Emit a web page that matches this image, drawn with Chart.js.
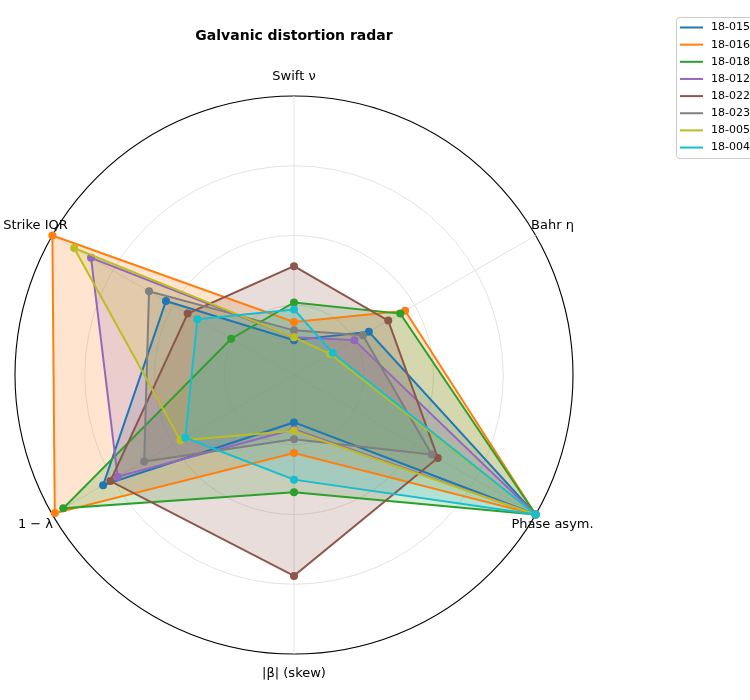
<!DOCTYPE html>
<html>
<head>
<meta charset="utf-8">
<script src="https://cdn.jsdelivr.net/npm/chart.js@4.4.1/dist/chart.umd.min.js"></script>
<style>
  html, body { margin: 0; padding: 0; background: #ffffff; overflow: hidden; }
  canvas { display: block; }
</style>
</head>
<body>
<canvas id="c" width="750" height="700"></canvas>
<script>
// ---- data ----
const axisLabels = ['Swift ν', 'Bahr η', 'Phase asym.', '|β| (skew)', '1 − λ', 'Strike IQR'];
const seriesNames = ['18-015', '18-016', '18-018', '18-012', '18-022', '18-023', '18-005', '18-004'];
const s18_015 = [0.125, 0.31, 1.0, 0.17, 0.79, 0.53];
const s18_016 = [0.19, 0.46, 1.0, 0.28, 0.99, 1.0];
const s18_018 = [0.26, 0.44, 1.0, 0.42, 0.955, 0.26];
const s18_012 = [0.135, 0.25, 1.0, 0.195, 0.73, 0.84];
const s18_022 = [0.39, 0.39, 0.595, 0.72, 0.76, 0.44];
const s18_023 = [0.16, 0.285, 0.57, 0.23, 0.62, 0.60];
const s18_005 = [0.135, 0.15, 1.0, 0.20, 0.47, 0.91];
const s18_004 = [0.235, 0.16, 1.0, 0.375, 0.45, 0.40];
const seriesValues = [s18_015, s18_016, s18_018, s18_012, s18_022, s18_023, s18_005, s18_004];
const radialTicks = [0, 0.25, 0.5, 0.75, 1.0];
const titleText = 'Galvanic distortion radar';

const colors = ['#1f77b4', '#ff7f0e', '#2ca02c', '#9467bd', '#8c564b', '#7f7f7f', '#bcbd22', '#17becf'];
function rgba(hex, a) {
  const r = parseInt(hex.slice(1, 3), 16), g = parseInt(hex.slice(3, 5), 16), b = parseInt(hex.slice(5, 7), 16);
  return `rgba(${r},${g},${b},${a})`;
}

const datasets = seriesNames.map((name, i) => ({
  label: name,
  data: seriesValues[i],
  borderColor: colors[i],
  backgroundColor: rgba(colors[i], 0.2),
  pointBackgroundColor: colors[i],
  pointBorderColor: colors[i],
  pointBorderWidth: 0,
  pointRadius: 4,
  borderWidth: 2,
  fill: true,
  order: seriesNames.length - i
}));

const FONT = "'DejaVu Sans', 'Liberation Sans', sans-serif";

const decor = {
  id: 'decor',
  afterDraw(chart) {
    const ctx = chart.ctx;
    const sc = chart.scales.r;
    ctx.save();
    // axis labels
    ctx.font = `13px ${FONT}`;
    ctx.fillStyle = '#000';
    ctx.textAlign = 'center';
    ctx.textBaseline = 'middle';
    axisLabels.forEach((lab, i) => {
      const p = sc.getPointPosition(i, sc.drawingArea * 1.07);
      ctx.fillText(lab, p.x, p.y);
    });
    // title
    ctx.font = `bold 14px ${FONT}`;
    ctx.fillText(titleText, sc.xCenter, 36);
    // legend
    const lx = 676.5, ly = 17.5, lh = 141;
    ctx.fillStyle = 'rgba(255,255,255,0.8)';
    ctx.strokeStyle = '#cccccc';
    ctx.lineWidth = 1;
    ctx.beginPath();
    ctx.roundRect(lx, ly, 120, lh, 3);
    ctx.fill();
    ctx.stroke();
    ctx.font = `11px ${FONT}`;
    ctx.textAlign = 'left';
    chart.data.datasets.forEach((ds, i) => {
      const y = 27.5 + i * 17.15;
      ctx.strokeStyle = ds.borderColor;
      ctx.lineWidth = 2;
      ctx.beginPath();
      ctx.moveTo(680, y);
      ctx.lineTo(703, y);
      ctx.stroke();
      ctx.fillStyle = '#000';
      ctx.fillText(ds.label, 711, y);
    });
    ctx.restore();
  }
};

new Chart(document.getElementById('c'), {
  type: 'radar',
  data: { labels: axisLabels, datasets },
  options: {
    responsive: false,
    animation: false,
    layout: { padding: { left: 15, top: 96, right: 177, bottom: 46 } },
    plugins: {
      legend: { display: false },
      title: { display: false },
      tooltip: { enabled: false },
      filler: { drawTime: 'beforeDatasetsDraw' }
    },
    elements: { line: { tension: 0 } },
    scales: {
      r: {
        min: radialTicks[0],
        max: radialTicks[radialTicks.length - 1],
        ticks: { display: false, stepSize: radialTicks[1] - radialTicks[0] },
        pointLabels: { display: false },
        grid: {
          circular: true,
          color: (c) => (c.tick && c.tick.value >= radialTicks[radialTicks.length - 1]) ? '#000000' : '#e0e0e0',
          lineWidth: (c) => (c.tick && c.tick.value >= radialTicks[radialTicks.length - 1]) ? 1.1 : 0.9
        },
        angleLines: { color: '#e0e0e0', lineWidth: 0.9 }
      }
    }
  },
  plugins: [decor]
});
</script>
</body>
</html>
